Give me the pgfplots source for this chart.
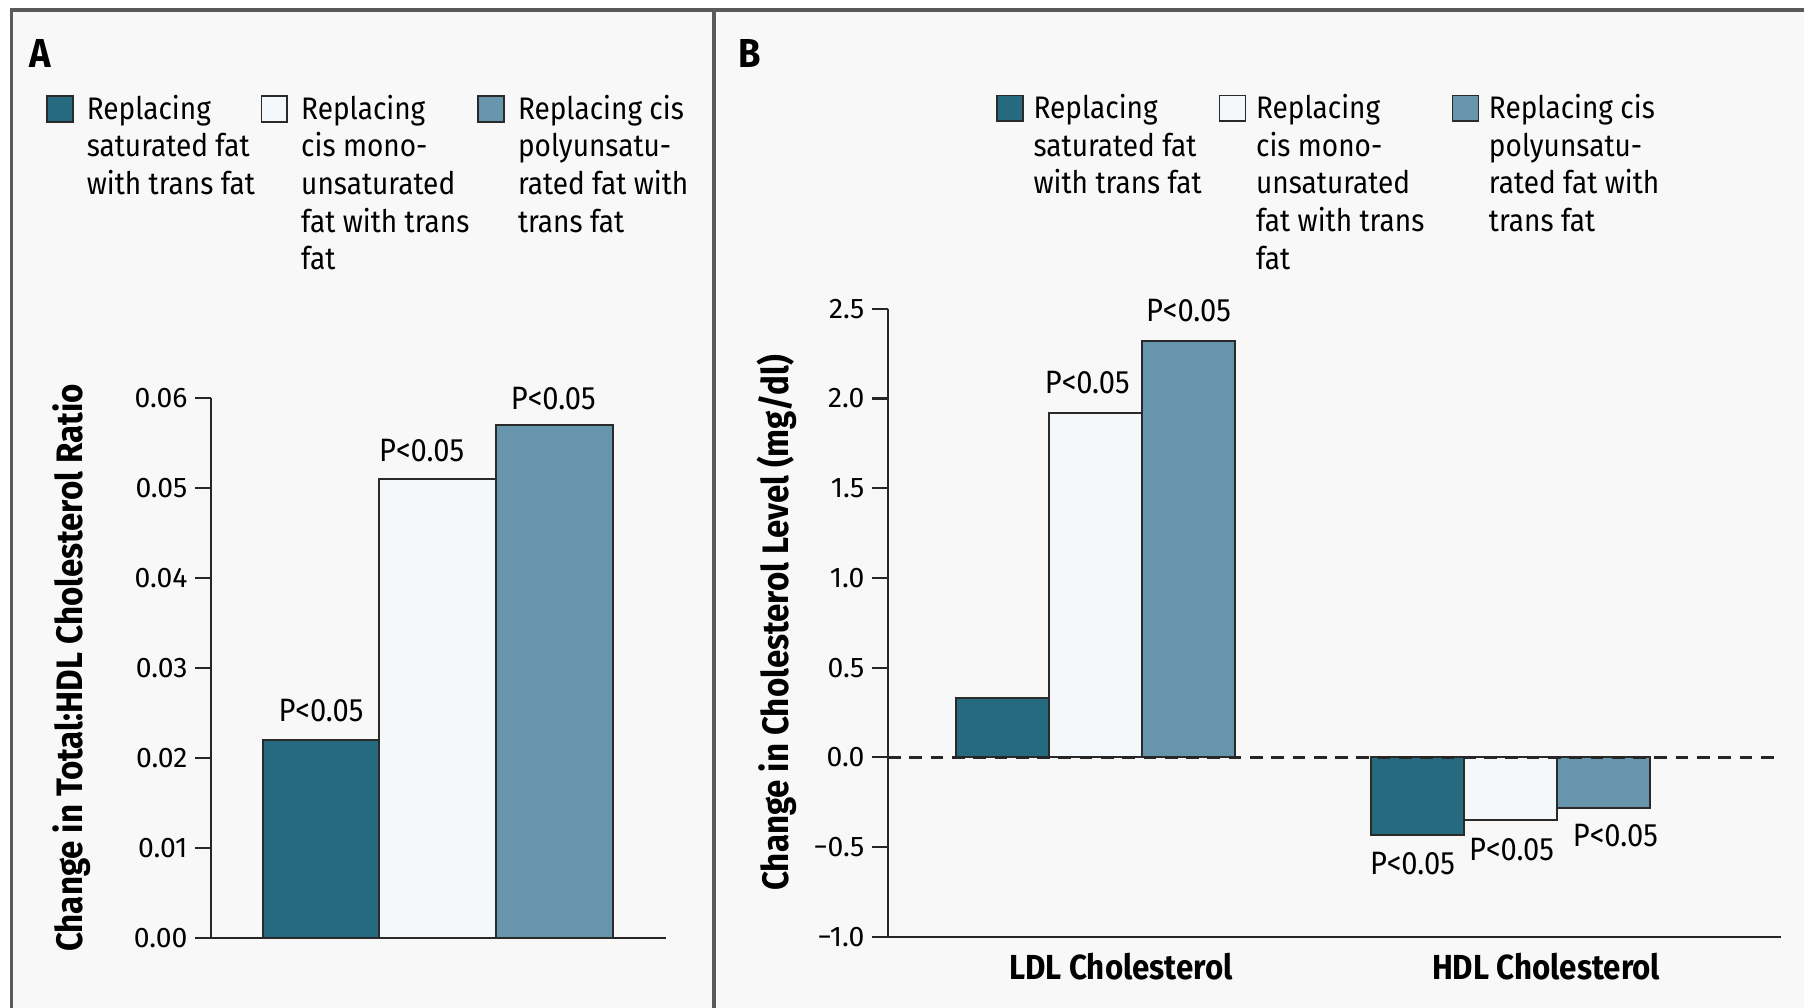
\documentclass[border=0pt]{standalone}
\usepackage{fontspec}
\setmainfont{Fira Sans}[FakeStretch=0.9]
\newfontfamily\plainfont{Fira Sans}
\usepackage{pgfplots}
\pgfplotsset{compat=1.18}
\definecolor{cdark}{HTML}{266A80}
\definecolor{cwhite}{HTML}{F4F8FA}
\definecolor{cblue}{HTML}{6795AB}
\definecolor{cframe}{HTML}{5A5A5A}
\definecolor{cbg}{HTML}{F8F8F8}
\definecolor{cedge}{HTML}{2A2A2A}

\newcommand\legfont{\fontsize{7.7pt}{9.3pt}\selectfont}
\newcommand\tickfont{\plainfont\fontsize{7pt}{8pt}\selectfont}
\newcommand\labfont{\bfseries\fontsize{9.1pt}{10pt}\selectfont}
\newcommand\catfont{\bfseries\fontsize{8.6pt}{10pt}\selectfont}
\newcommand\pfont{\fontsize{8pt}{9pt}\selectfont}
\newcommand\legA[2]{\hspace*{1.15mm}\parbox[t]{#1}{\legfont\raggedright #2}}
\newcommand\legB[2]{\hspace*{0.85mm}\parbox[t]{#1}{\legfont\raggedright #2}}

\pgfplotsset{
 legsq/.style={legend image code/.code={\draw[##1,line width=0.4pt] (0mm,-0.22mm) rectangle (2.25mm,2.02mm);}},
 s1/.style={fill=cdark, draw=cedge, line width=0.5pt, legsq},
 s2/.style={fill=cwhite, draw=cedge, line width=0.5pt, legsq},
 s3/.style={fill=cblue, draw=cedge, line width=0.5pt, legsq},
 panel/.style={
  scale only axis, clip=false,
  axis lines=left, axis line style={-, line width=0.5pt, draw=black!85},
  ybar=0pt, bar width=1,
  scaled y ticks=false,
  tick align=outside, major tick length=1.4mm,
  ytick style={line width=0.5pt, draw=black!85},
  xtick style={draw=none},
  yticklabel style={font=\tickfont, inner sep=0pt, xshift=-0.6mm},
  xticklabel style={font=\catfont, inner sep=0pt},
  ylabel style={font=\labfont, inner sep=0pt, anchor=center},
  legend style={draw=none, fill=none, inner sep=0pt, outer sep=0pt, column sep=0pt, row sep=0pt, nodes={inner sep=0pt, outer sep=0pt}, cells={anchor=base west}},
  legend columns=3,
 },
}

\begin{document}
\begin{tikzpicture}
\useasboundingbox (0,0) rectangle (156.8mm,87.6mm);
\fill[cbg] (1.0mm,0) rectangle (156.8mm,86.73mm);
\draw[cframe, line width=0.3mm] (1.0mm,0) -- (1.0mm,86.73mm) -- (156.8mm,86.73mm);
\draw[cframe, line width=0.35mm] (62.05mm,0) -- (62.05mm,86.73mm);
\node[anchor=base west, inner sep=0pt, font=\bfseries\fontsize{10pt}{12pt}\selectfont] at (2.5mm,81.7mm) {A};
\node[anchor=base west, inner sep=0pt, font=\bfseries\fontsize{10pt}{12pt}\selectfont] at (64.1mm,81.7mm) {B};

% Panel A
\begin{axis}[panel, at={(18.36mm,6.1mm)}, anchor=south west, width=39.5mm, height=46.87mm,
 xmin=-0.94, xmax=2.952, ymin=0, ymax=0.06,
 ytick={0,0.01,0.02,0.03,0.04,0.05,0.06},
 yticklabels={0.00,0.01,0.02,0.03,0.04,0.05,0.06},
 xtick=\empty,
 ylabel={Change in Total:HDL Cholesterol Ratio},
 ylabel style={at={(axis description cs:-0.308,0.5)}},
 legend style={at={(axis description cs:-0.3635,1.5626)}, anchor=north west},
]
\addplot[s1] coordinates {(1,0.022)};
\addlegendentry{\legA{15.1mm}{Replacing\\saturated fat\\with trans fat}}
\addplot[s2] coordinates {(1,0.051)};
\addlegendentry{\legA{15.3mm}{Replacing\\cis mono-\\unsaturated\\fat with trans\\fat}}
\addplot[s3] coordinates {(1,0.057)};
\addlegendentry{\legA{15mm}{Replacing cis\\polyunsatu-\\rated fat with\\trans fat}}
\node[font=\pfont, anchor=base, inner sep=0pt] at (axis cs:0,0.02407) {P<0.05};
\node[font=\pfont, anchor=base, inner sep=0pt] at (axis cs:0.862,0.0530) {P<0.05};
\node[font=\pfont, anchor=base, inner sep=0pt] at (axis cs:1.99,0.05876) {P<0.05};
\end{axis}

% Panel B
\begin{axis}[panel, at={(77.2mm,6.16mm)}, anchor=south west, width=77.6mm, height=54.6mm,
 xmin=-1.226, xmax=8.354, ymin=-1, ymax=2.5,
 ytick={-1,-0.5,0,0.5,1,1.5,2,2.5},
 yticklabels={−1.0,−0.5,0.0,0.5,1.0,1.5,2.0,2.5},
 xtick={1.273,5.834},
 xticklabels={LDL Cholesterol,HDL Cholesterol},
 xticklabel style={anchor=north, yshift=0.1mm},
 ylabel={Change in Cholesterol Level (mg/dl)},
 ylabel style={at={(axis description cs:-0.1244,0.5)}},
 legend style={at={(axis description cs:0.1211,1.3414)}, anchor=north west},
]
\addplot[s1] coordinates {(1,0.33) (5.45,-0.43)};
\addlegendentry{\legB{16.1mm}{Replacing\\saturated fat\\with trans fat}}
\addplot[s2] coordinates {(1,1.92) (5.45,-0.35)};
\addlegendentry{\legB{17.0mm}{Replacing\\cis mono-\\unsaturated\\fat with trans\\fat}}
\addplot[s3] coordinates {(1,2.32) (5.45,-0.28)};
\addlegendentry{\legB{16mm}{Replacing cis\\polyunsatu-\\rated fat with\\trans fat}}
\draw[black!85, line width=0.55pt, dash pattern=on 1.1mm off 0.75mm] (axis cs:-1.226,0) -- (axis cs:8.354,0);
\node[font=\pfont, anchor=base, inner sep=0pt] at (axis cs:0.91,2.027) {P<0.05};
\node[font=\pfont, anchor=base, inner sep=0pt] at (axis cs:1.996,2.428) {P<0.05};
\node[font=\pfont, anchor=base, inner sep=0pt] at (axis cs:4.399,-0.651) {P<0.05};
\node[font=\pfont, anchor=base, inner sep=0pt] at (axis cs:5.463,-0.572) {P<0.05};
\node[font=\pfont, anchor=base, inner sep=0pt] at (axis cs:6.577,-0.4955) {P<0.05};
\end{axis}
\end{tikzpicture}
\end{document}
